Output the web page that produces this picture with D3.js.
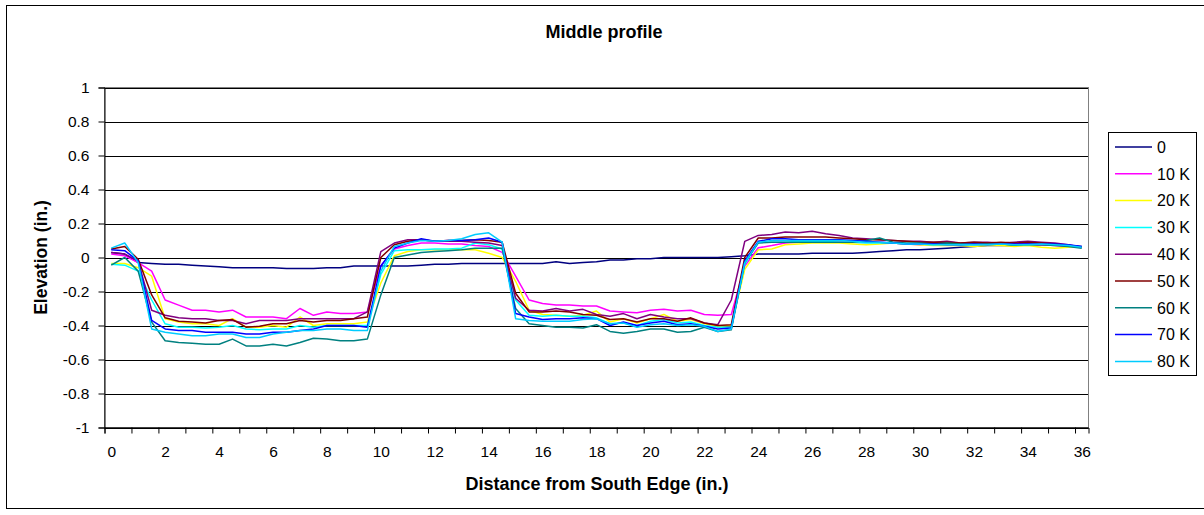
<!DOCTYPE html>
<html>
<head>
<meta charset="utf-8">
<script src="https://cdn.jsdelivr.net/npm/d3@7"></script>
<style>
  html, body { margin: 0; padding: 0; background: #fff; }
  svg { display: block; font-family: Arial, "Liberation Sans", sans-serif; }
</style>
</head>
<body>
<svg id="chart" width="1204" height="515"></svg>
<script>
// Distance from the south edge (in.), one reading every half inch
const distance = [
  0, 0.5, 1, 1.5, 2, 2.5, 3, 3.5, 4, 4.5, 5, 5.5, 6, 6.5, 7, 7.5, 8, 8.5, 9, 9.5,
  10, 10.5, 11, 11.5, 12, 12.5, 13, 13.5, 14, 14.5, 15, 15.5, 16, 16.5, 17, 17.5,
  18, 18.5, 19, 19.5, 20, 20.5, 21, 21.5, 22, 22.5, 23, 23.5, 24, 24.5, 25, 25.5,
  26, 26.5, 27, 27.5, 28, 28.5, 29, 29.5, 30, 30.5, 31, 31.5, 32, 32.5, 33, 33.5,
  34, 34.5, 35, 35.5, 36
];

// Elevation (in.) after each number of load passes
const pass0 = [
  0.03, 0.02, -0.03, -0.035, -0.04, -0.04, -0.045, -0.05, -0.055, -0.06, -0.06, -0.06, -0.06, -0.065, -0.065,
  -0.065, -0.06, -0.06, -0.05, -0.05, -0.05, -0.05, -0.05, -0.045, -0.04, -0.04, -0.035, -0.035, -0.035, -0.035,
  -0.035, -0.035, -0.035, -0.025, -0.035, -0.03, -0.025, -0.015, -0.015, -0.008, -0.008, 0, 0, 0, 0, 0, 0.005, 0.01,
  0.02, 0.02, 0.02, 0.02, 0.025, 0.025, 0.025, 0.025, 0.03, 0.035, 0.04, 0.045, 0.045, 0.05, 0.055, 0.06, 0.065,
  0.07, 0.07, 0.07, 0.075, 0.075, 0.075, 0.07, 0.065
];
const pass10k = [
  0.02, 0.01, -0.03, -0.08, -0.25, -0.28, -0.31, -0.31, -0.32, -0.31, -0.35, -0.35, -0.35, -0.36, -0.30,
  -0.34, -0.32, -0.33, -0.33, -0.32, -0.05, 0.05, 0.07, 0.085, 0.085, 0.08, 0.08, 0.07, 0.065, 0.03,
  -0.11, -0.25, -0.27, -0.28, -0.28, -0.285, -0.285, -0.315, -0.32, -0.325, -0.31, -0.305, -0.315, -0.31, -0.335, -0.34, -0.335, -0.05,
  0.057, 0.07, 0.085, 0.09, 0.09, 0.09, 0.09, 0.09, 0.088, 0.09, 0.085, 0.08, 0.075, 0.08, 0.08, 0.075, 0.075,
  0.08, 0.075, 0.08, 0.08, 0.075, 0.07, 0.065, 0.06
];
const pass20k = [
  -0.035, -0.035, -0.06, -0.11, -0.36, -0.38, -0.39, -0.39, -0.40, -0.36, -0.41, -0.41, -0.40, -0.41, -0.35,
  -0.40, -0.39, -0.39, -0.39, -0.38, -0.15, 0.01, 0.035, 0.045, 0.045, 0.045, 0.045, 0.045, 0.025, 0.0,
  -0.14, -0.31, -0.335, -0.34, -0.345, -0.34, -0.315, -0.38, -0.36, -0.385, -0.36, -0.335, -0.375, -0.365, -0.39, -0.405, -0.40, -0.07,
  0.045, 0.05, 0.075, 0.08, 0.085, 0.085, 0.085, 0.08, 0.075, 0.08, 0.085, 0.08, 0.075, 0.07, 0.07, 0.07, 0.065,
  0.07, 0.07, 0.065, 0.07, 0.06, 0.055, 0.06, 0.06
];
const pass30k = [
  -0.04, -0.045, -0.08, -0.25, -0.39, -0.41, -0.41, -0.415, -0.41, -0.40, -0.42, -0.425, -0.42, -0.42, -0.40,
  -0.41, -0.40, -0.40, -0.40, -0.40, -0.10, 0.04, 0.045, 0.045, 0.05, 0.05, 0.055, 0.085, 0.075, 0.05,
  -0.25, -0.34, -0.345, -0.34, -0.345, -0.345, -0.355, -0.39, -0.385, -0.40, -0.375, -0.365, -0.385, -0.38, -0.40, -0.41, -0.41, -0.04,
  0.09, 0.09, 0.09, 0.095, 0.095, 0.095, 0.09, 0.09, 0.085, 0.085, 0.085, 0.08, 0.08, 0.075, 0.08, 0.075, 0.075,
  0.08, 0.08, 0.075, 0.08, 0.08, 0.075, 0.07, 0.06
];
const pass40k = [
  0.03, 0.02, -0.02, -0.31, -0.34, -0.355, -0.36, -0.36, -0.37, -0.37, -0.39, -0.37, -0.37, -0.37, -0.36,
  -0.36, -0.36, -0.36, -0.36, -0.32, 0.035, 0.085, 0.105, 0.105, 0.095, 0.095, 0.095, 0.09, 0.085, 0.07,
  -0.24, -0.31, -0.315, -0.30, -0.315, -0.305, -0.335, -0.345, -0.33, -0.36, -0.335, -0.35, -0.36, -0.36, -0.385, -0.395, -0.25, 0.095,
  0.13, 0.135, 0.15, 0.145, 0.155, 0.14, 0.13, 0.115, 0.11, 0.105, 0.10, 0.095, 0.095, 0.09, 0.095, 0.085, 0.09,
  0.09, 0.085, 0.09, 0.095, 0.09, 0.085, 0.075, 0.06
];
const pass50k = [
  0.05, 0.065, -0.01, -0.22, -0.355, -0.375, -0.38, -0.385, -0.37, -0.365, -0.41, -0.405, -0.39, -0.39, -0.37,
  -0.38, -0.37, -0.37, -0.36, -0.35, 0.0, 0.075, 0.095, 0.105, 0.095, 0.10, 0.10, 0.105, 0.10, 0.09,
  -0.21, -0.32, -0.32, -0.315, -0.32, -0.335, -0.34, -0.365, -0.36, -0.38, -0.36, -0.36, -0.375, -0.355, -0.385, -0.40, -0.395, 0.0,
  0.115, 0.115, 0.12, 0.12, 0.12, 0.12, 0.115, 0.11, 0.105, 0.105, 0.10, 0.095, 0.09, 0.09, 0.09, 0.085, 0.09,
  0.085, 0.09, 0.085, 0.09, 0.085, 0.08, 0.07, 0.06
];
const pass60k = [
  -0.045, 0.0, -0.08, -0.38, -0.49, -0.50, -0.505, -0.51, -0.51, -0.48, -0.52, -0.52, -0.51, -0.52, -0.50,
  -0.475, -0.48, -0.49, -0.49, -0.48, -0.22, 0.0, 0.015, 0.03, 0.035, 0.04, 0.045, 0.055, 0.055, 0.055,
  -0.30, -0.39, -0.40, -0.41, -0.41, -0.415, -0.395, -0.435, -0.445, -0.435, -0.42, -0.42, -0.44, -0.435, -0.41, -0.435, -0.425, -0.03,
  0.085, 0.09, 0.09, 0.09, 0.09, 0.09, 0.09, 0.09, 0.10, 0.115, 0.09, 0.085, 0.085, 0.08, 0.085, 0.08, 0.08,
  0.08, 0.08, 0.075, 0.075, 0.075, 0.07, 0.065, 0.055
];
const pass70k = [
  0.045, 0.04, -0.02, -0.37, -0.42, -0.43, -0.43, -0.44, -0.44, -0.44, -0.45, -0.45, -0.44, -0.44, -0.43,
  -0.42, -0.40, -0.40, -0.40, -0.41, -0.05, 0.055, 0.085, 0.11, 0.095, 0.10, 0.10, 0.105, 0.115, 0.09,
  -0.33, -0.35, -0.365, -0.36, -0.36, -0.355, -0.36, -0.40, -0.38, -0.40, -0.385, -0.375, -0.395, -0.39, -0.405, -0.42, -0.415, -0.02,
  0.095, 0.11, 0.11, 0.105, 0.105, 0.105, 0.105, 0.10, 0.095, 0.09, 0.085, 0.08, 0.08, 0.08, 0.075, 0.075, 0.08,
  0.075, 0.08, 0.08, 0.08, 0.08, 0.08, 0.075, 0.065
];
const pass80k = [
  0.055, 0.085, -0.03, -0.42, -0.44, -0.45, -0.46, -0.46, -0.45, -0.45, -0.47, -0.47, -0.45, -0.44, -0.43,
  -0.43, -0.42, -0.42, -0.43, -0.43, -0.08, 0.065, 0.085, 0.10, 0.095, 0.10, 0.11, 0.135, 0.145, 0.09,
  -0.36, -0.37, -0.375, -0.375, -0.375, -0.365, -0.36, -0.39, -0.385, -0.41, -0.395, -0.39, -0.40, -0.395, -0.405, -0.435, -0.42, -0.03,
  0.09, 0.10, 0.10, 0.10, 0.10, 0.10, 0.10, 0.095, 0.09, 0.09, 0.085, 0.08, 0.08, 0.075, 0.075, 0.075, 0.075,
  0.075, 0.08, 0.075, 0.075, 0.08, 0.075, 0.07, 0.06
];

const seriesNames = ["0", "10 K", "20 K", "30 K", "40 K", "50 K", "60 K", "70 K", "80 K"];
const seriesValues = [pass0, pass10k, pass20k, pass30k, pass40k, pass50k, pass60k, pass70k, pass80k];
const seriesColors = ["#000080", "#FF00FF", "#FFFF00", "#00FFFF", "#800080", "#800000", "#008080", "#0000FF", "#00CCFF"];

const yTicks = [-1, -0.8, -0.6, -0.4, -0.2, 0, 0.2, 0.4, 0.6, 0.8, 1];
const xLabels = [0, 2, 4, 6, 8, 10, 12, 14, 16, 18, 20, 22, 24, 26, 28, 30, 32, 34, 36];

const FONT = "Arial, 'Liberation Sans', sans-serif";
const LABEL_SIZE = 15.5;
const TITLE_SIZE = 18;

const svg = d3.select("#chart");
const W = 1204, H = 515;
const plot = { left: 104.5, right: 1088.5, top: 87.5, bottom: 427.5 };

// Background and chart frame (its right side runs past the visible area)
svg.append("rect").attr("x", 0).attr("y", 0).attr("width", W).attr("height", H).attr("fill", "#fff");
svg.append("rect")
  .attr("x", 6.5).attr("y", 5.5).attr("width", 1210).attr("height", 503)
  .attr("fill", "none").attr("stroke", "#000").attr("stroke-width", 1);

// Category-style x axis: each half-inch reading sits in the middle of its slot
const step = distance[1] - distance[0];
const x = d3.scaleLinear()
  .domain([distance[0] - step / 2, distance[distance.length - 1] + step / 2])
  .range([plot.left, plot.right]);
const y = d3.scaleLinear().domain([-1, 1]).range([plot.bottom, plot.top]);

// Horizontal gridlines
svg.append("g")
  .selectAll("line")
  .data(yTicks)
  .join("line")
  .attr("x1", plot.left).attr("x2", plot.right)
  .attr("y1", d => Math.round(y(d)) + 0.5).attr("y2", d => Math.round(y(d)) + 0.5)
  .attr("stroke", "#000").attr("stroke-width", 1);

// Plot area border
svg.append("rect")
  .attr("x", plot.left).attr("y", plot.top)
  .attr("width", plot.right - plot.left).attr("height", plot.bottom - plot.top)
  .attr("fill", "none").attr("stroke", "#808080").attr("stroke-width", 1);

// Y axis
const yAxis = svg.append("g")
  .attr("transform", `translate(${plot.left},0)`)
  .call(d3.axisLeft(y).tickValues(yTicks).tickSize(6).tickPadding(9)
    .tickFormat(d => String(+d.toFixed(1))));
yAxis.select(".domain").attr("stroke", "#000");
yAxis.selectAll("line").attr("stroke", "#000");
yAxis.selectAll("text").attr("font-size", LABEL_SIZE).attr("fill", "#000").attr("font-family", FONT);

// X axis tick marks on every other slot boundary
const boundaries = d3.range(0, distance.length, 2).map(i => distance[i] - step / 2);
const xTickAxis = svg.append("g")
  .attr("transform", `translate(0,${plot.bottom})`)
  .call(d3.axisBottom(x).tickValues(boundaries).tickSize(6).tickFormat(""));
xTickAxis.select(".domain").attr("stroke", "#000");
xTickAxis.selectAll("line").attr("stroke", "#000");

// X axis labels, centred on their readings
const xLabelAxis = svg.append("g")
  .attr("transform", `translate(0,${plot.bottom})`)
  .call(d3.axisBottom(x).tickValues(xLabels).tickSize(0).tickPadding(18).tickFormat(d => String(d)));
xLabelAxis.select(".domain").remove();
xLabelAxis.selectAll("text").attr("font-size", LABEL_SIZE).attr("fill", "#000").attr("font-family", FONT);

// Profile lines
const line = d3.line()
  .x((d, i) => x(distance[i]))
  .y(d => y(d));

svg.append("g")
  .selectAll("path")
  .data(seriesValues)
  .join("path")
  .attr("d", d => line(d))
  .attr("fill", "none")
  .attr("stroke", (d, i) => seriesColors[i])
  .attr("stroke-width", 1.5)
  .attr("stroke-linejoin", "round");

// Titles
svg.append("text")
  .attr("x", 604).attr("y", 37.5)
  .attr("text-anchor", "middle")
  .attr("font-size", TITLE_SIZE).attr("font-weight", "bold")
  .text("Middle profile");

svg.append("text")
  .attr("x", 597).attr("y", 489.5)
  .attr("text-anchor", "middle")
  .attr("font-size", TITLE_SIZE).attr("font-weight", "bold")
  .text("Distance from South Edge (in.)");

svg.append("text")
  .attr("transform", `translate(46.5,${(plot.top + plot.bottom) / 2}) rotate(-90)`)
  .attr("text-anchor", "middle")
  .attr("font-size", 17.5).attr("font-weight", "bold")
  .text("Elevation (in.)");

// Legend
const legend = svg.append("g");
legend.append("rect")
  .attr("x", 1108.5).attr("y", 132.5).attr("width", 88).attr("height", 243)
  .attr("fill", "#fff").attr("stroke", "#000").attr("stroke-width", 1);

const rows = legend.selectAll("g.item")
  .data(seriesNames)
  .join("g")
  .attr("class", "item")
  .attr("transform", (d, i) => `translate(0,${147 + i * 26.8})`);
rows.append("line")
  .attr("x1", 1115).attr("x2", 1152)
  .attr("stroke", (d, i) => seriesColors[i])
  .attr("stroke-width", 1.5);
rows.append("text")
  .attr("x", 1157).attr("y", 0).attr("dy", "0.36em")
  .attr("font-size", 16)
  .text(d => d);
</script>
</body>
</html>
